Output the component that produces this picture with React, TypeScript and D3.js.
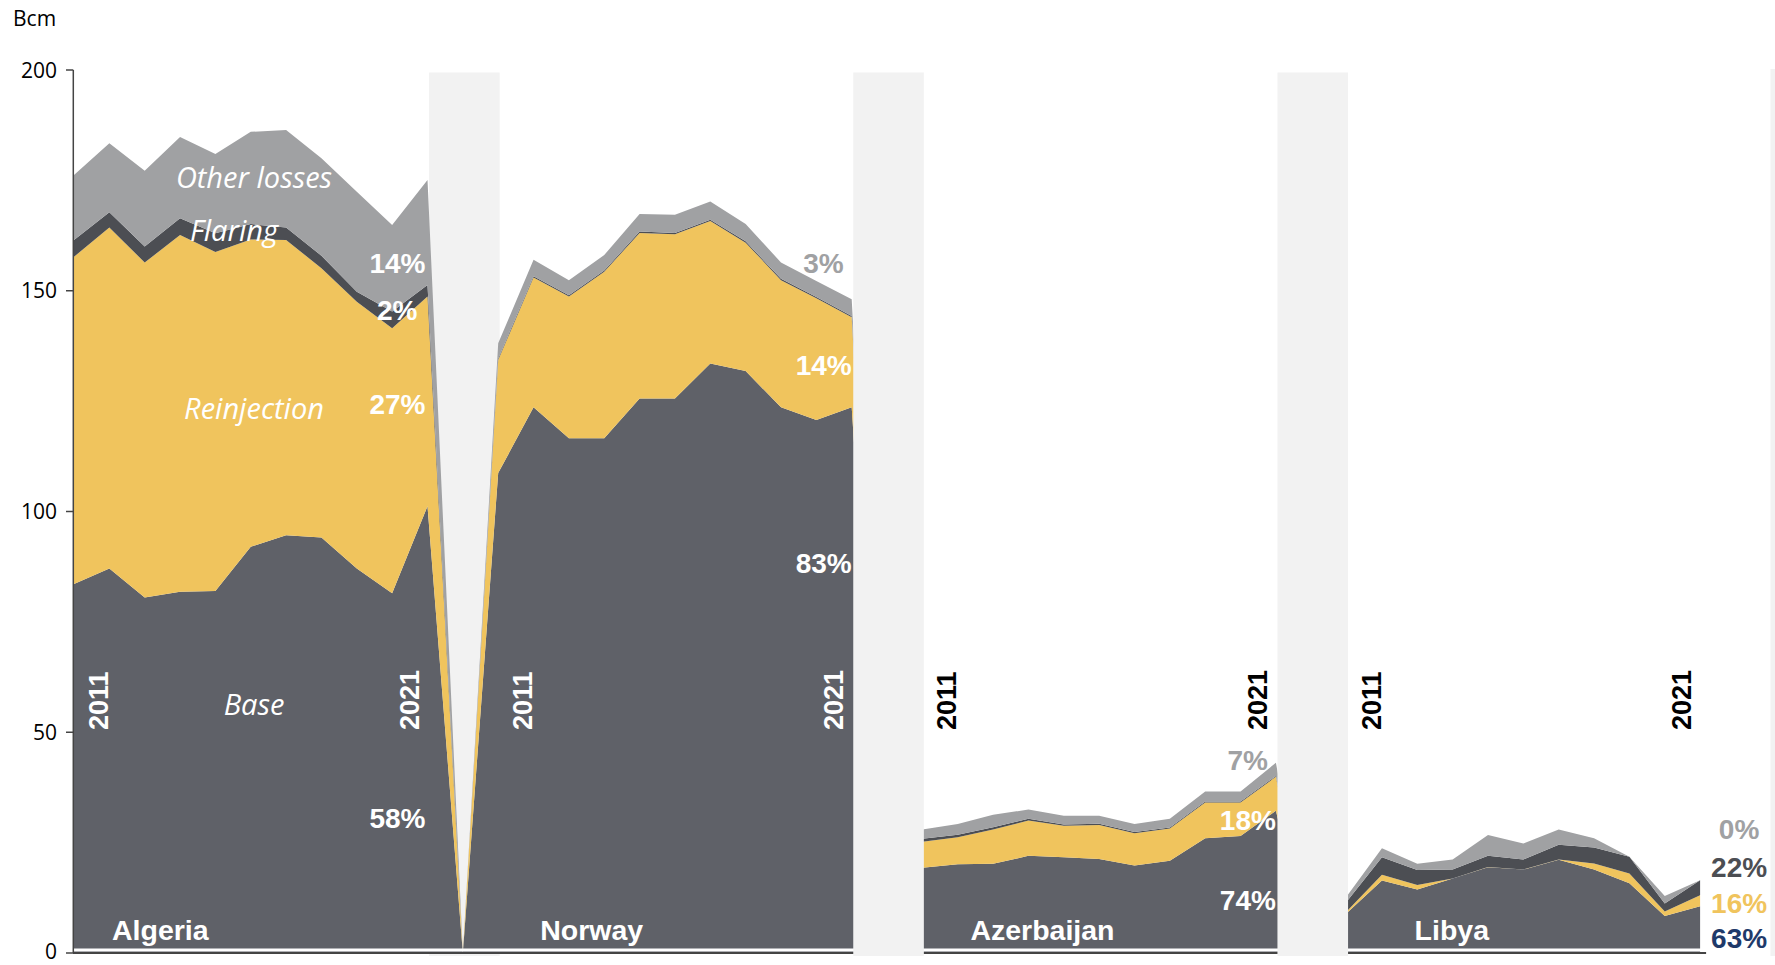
import React from "react";
import * as d3 from "d3";

// ---------- DATA (Bcm) ----------
const years = ["2011", "2012", "2013", "2014", "2015", "2016", "2017", "2018", "2019", "2020", "2021"];
const countries = ["Algeria", "Norway", "Azerbaijan", "Libya"];

const algeriaBase = [83.6, 87.1, 80.5, 81.8, 82.0, 92.0, 94.6, 94.1, 87.1, 81.5, 101.2];
const algeriaReinjection = [74.1, 77.2, 75.9, 80.8, 76.8, 69.6, 66.9, 61.0, 60.4, 60.0, 47.5];
const algeriaFlaring = [3.8, 3.5, 3.6, 3.8, 4.2, 3.5, 2.8, 2.8, 2.3, 3.8, 2.6];
const algeriaOther = [14.7, 15.6, 17.2, 18.4, 18.0, 20.9, 22.1, 22.1, 22.6, 19.6, 23.8];

const norwayBase = [108.7, 123.6, 116.6, 116.6, 125.6, 125.6, 133.5, 131.8, 123.6, 120.7, 123.6];
const norwayReinjection = [25.6, 29.4, 32.1, 37.7, 37.5, 37.2, 32.3, 29.1, 28.8, 27.6, 20.4];
const norwayFlaring = [0.3, 0.3, 0.3, 0.3, 0.3, 0.3, 0.3, 0.3, 0.3, 0.3, 0.3];
const norwayOther = [3.5, 3.7, 3.4, 3.5, 4.0, 4.1, 4.1, 3.9, 3.7, 3.6, 3.8];

const azerbaijanBase = [19.3, 20.1, 20.2, 22.0, 21.7, 21.3, 19.8, 20.9, 26.0, 26.5, 32.2];
const azerbaijanReinjection = [5.9, 6.1, 7.8, 8.0, 7.1, 7.7, 7.3, 7.3, 8.1, 7.6, 7.7];
const azerbaijanFlaring = [0.7, 0.6, 0.5, 0.4, 0.3, 0.3, 0.3, 0.2, 0.2, 0.2, 0.2];
const azerbaijanOther = [2.1, 2.4, 2.8, 2.1, 2.0, 1.8, 1.8, 2.0, 2.3, 2.3, 3.0];

const libyaBase = [9.0, 16.4, 14.4, 16.9, 19.4, 18.9, 21.1, 18.9, 15.8, 8.4, 10.6];
const libyaReinjection = [0.4, 1.3, 1.0, 0.0, 0.1, 0.0, 0.1, 1.4, 2.2, 1.0, 2.5];
const libyaFlaring = [2.2, 4.0, 3.4, 2.0, 2.5, 2.3, 3.3, 3.6, 3.8, 1.8, 3.4];
const libyaOther = [1.2, 2.0, 1.4, 2.3, 4.7, 3.6, 3.5, 2.1, 0.0, 1.7, 0.0];

const seriesKeys = ["base", "reinjection", "flaring", "other"];
const seriesColors = ["#5f6168", "#f0c45d", "#4c4e53", "#a0a1a3"];

const yTicks = [0, 50, 100, 150, 200];

// 2021 shares (labels)
const algeriaShares = ["58%", "27%", "2%", "14%"];
const norwayShares = ["83%", "14%", "3%"];
const azerbaijanShares = ["74%", "18%", "7%"];
const libyaShares = ["63%", "16%", "22%", "0%"];

const countrySeries = [
  [algeriaBase, algeriaReinjection, algeriaFlaring, algeriaOther],
  [norwayBase, norwayReinjection, norwayFlaring, norwayOther],
  [azerbaijanBase, azerbaijanReinjection, azerbaijanFlaring, azerbaijanOther],
  [libyaBase, libyaReinjection, libyaFlaring, libyaOther],
];

// Build a continuous table: 11 years per country, with a zero gap point between countries
type Row = { [k: string]: number };
const rows: Row[] = [];
countrySeries.forEach((s, ci) => {
  years.forEach((_, yi) => {
    const r: Row = {};
    seriesKeys.forEach((k, ki) => (r[k] = s[ki][yi]));
    rows.push(r);
  });
  if (ci < countrySeries.length - 1) {
    const g: Row = {};
    seriesKeys.forEach((k) => (g[k] = 0));
    rows.push(g);
  }
});

const W = 1775;
const H = 965;
const step = 35.35;
const x = d3.scaleLinear().domain([0, rows.length - 1]).range([74, 74 + (rows.length - 1) * step]);
const y = d3.scaleLinear().domain([0, 200]).range([953, 70]);

const stack = d3.stack<Row>().keys(seriesKeys);
const stacked = stack(rows);
const area = d3
  .area<any>()
  .x((_, i) => x(i))
  .y0((d) => y(d[0]))
  .y1((d) => y(d[1]))
  .curve(d3.curveLinear);

const ARIAL = "'Liberation Sans', Arial, sans-serif";
const SANS = "'Open Sans', 'Noto Sans', sans-serif";

export default function App() {
  const firstIdx = (ci: number) => ci * 12;
  const lastIdx = (ci: number) => ci * 12 + 10;
  const gapIdx = [11, 23, 35];
  const bandTop = 72.5;
  const bandBottom = 956;
  const bandHalf = 35.3;

  const band = (g: number) => (
    <rect
      key={"band" + g}
      x={x(g) + 1.5 - bandHalf}
      y={bandTop}
      width={bandHalf * 2}
      height={bandBottom - bandTop}
      fill="#f2f2f2"
    />
  );

  const pctStyle = { fontFamily: ARIAL, fontWeight: 700, fontSize: 28 } as const;
  const yearStyle = { fontFamily: ARIAL, fontWeight: 700, fontSize: 27 } as const;
  const italic = { fontFamily: SANS, fontStyle: "italic", fontSize: 29, fill: "#ffffff" } as const;

  const yearColors = ["#ffffff", "#ffffff", "#000000", "#000000"];

  return (
    <svg width={W} height={H} style={{ position: "absolute", left: 0, top: 0, background: "#fff" }}>
      {/* first gap band sits behind the areas */}
      {band(gapIdx[0])}

      {stacked.map((layer, li) => (
        <path key={layer.key} d={area(layer as any) || ""} fill={seriesColors[li]} />
      ))}

      {/* white separation + x axis */}
      <line x1={x(0)} x2={x(rows.length - 1) + 6} y1={y(0) - 3} y2={y(0) - 3} stroke="#ffffff" strokeWidth={3} />
      <line x1={x(0) - 1} x2={x(rows.length - 1) + 6} y1={y(0)} y2={y(0)} stroke="#444444" strokeWidth={2} />

      {/* other gap bands drawn on top */}
      {band(gapIdx[1])}
      {band(gapIdx[2])}
      <rect x={1770.5} y={69} width={5} height={bandBottom - 69} fill="#f2f2f2" />

      {/* y axis */}
      <line x1={73.3} x2={73.3} y1={y(200)} y2={y(0)} stroke="#444444" strokeWidth={1.5} />
      {yTicks.map((t) => (
        <g key={t}>
          <line x1={66} x2={73.3} y1={y(t)} y2={y(t)} stroke="#444444" strokeWidth={1.5} />
          <text
            x={57}
            y={t === 0 ? y(t) - 1.5 : y(t)}
            dy="0.36em"
            textAnchor="end"
            style={{ fontFamily: SANS, fontSize: 21, fill: "#000" }}
          >
            {t}
          </text>
        </g>
      ))}
      <text x={13} y={26} style={{ fontFamily: SANS, fontSize: 21, fill: "#000" }}>
        Bcm
      </text>

      {/* series names (Algeria panel) */}
      <text x={254} y={188} textAnchor="middle" style={italic}>Other losses</text>
      <text x={234} y={241} textAnchor="middle" style={italic}>Flaring</text>
      <text x={254} y={419} textAnchor="middle" style={italic}>Reinjection</text>
      <text x={254} y={715} textAnchor="middle" style={italic}>Base</text>

      {/* year labels */}
      {countries.map((c, ci) => (
        <g key={"yr" + c}>
          <text
            transform={`translate(${x(firstIdx(ci)) + 34},730) rotate(-90)`}
            style={{ ...yearStyle, fill: yearColors[ci] }}
          >
            {years[0]}
          </text>
          <text
            transform={`translate(${x(lastIdx(ci)) - 9},730) rotate(-90)`}
            style={{ ...yearStyle, fill: yearColors[ci] }}
          >
            {years[years.length - 1]}
          </text>
        </g>
      ))}

      {/* country names */}
      {countries.map((c, ci) => (
        <text
          key={c}
          x={x(firstIdx(ci)) + (ci === 0 ? 38 : ci === 1 ? 42 : ci === 2 ? 48 : 68)}
          y={940}
          style={{ fontFamily: ARIAL, fontWeight: 700, fontSize: 28.5, fill: "#ffffff" }}
        >
          {c}
        </text>
      ))}

      {/* Algeria shares */}
      <text x={x(10) - 2} y={828} textAnchor="end" style={{ ...pctStyle, fill: "#fff" }}>{algeriaShares[0]}</text>
      <text x={x(10) - 2} y={414} textAnchor="end" style={{ ...pctStyle, fill: "#fff" }}>{algeriaShares[1]}</text>
      <text x={x(10) - 10} y={320} textAnchor="end" style={{ ...pctStyle, fill: "#fff" }}>{algeriaShares[2]}</text>
      <text x={x(10) - 2} y={273} textAnchor="end" style={{ ...pctStyle, fill: "#fff" }}>{algeriaShares[3]}</text>

      {/* Norway shares */}
      <text x={x(22)} y={573} textAnchor="end" style={{ ...pctStyle, fill: "#fff" }}>{norwayShares[0]}</text>
      <text x={x(22)} y={375} textAnchor="end" style={{ ...pctStyle, fill: "#fff" }}>{norwayShares[1]}</text>
      <text x={x(22) - 8} y={273} textAnchor="end" style={{ ...pctStyle, fill: "#a0a1a3" }}>{norwayShares[2]}</text>

      {/* Azerbaijan shares */}
      <text x={x(34)} y={910} textAnchor="end" style={{ ...pctStyle, fill: "#fff" }}>{azerbaijanShares[0]}</text>
      <text x={x(34)} y={830} textAnchor="end" style={{ ...pctStyle, fill: "#fff" }}>{azerbaijanShares[1]}</text>
      <text x={x(34) - 8} y={770} textAnchor="end" style={{ ...pctStyle, fill: "#a0a1a3" }}>{azerbaijanShares[2]}</text>

      {/* Libya shares */}
      <text x={x(46) + 39} y={948} textAnchor="middle" style={{ ...pctStyle, fill: "#1f3a6a" }}>{libyaShares[0]}</text>
      <text x={x(46) + 39} y={913} textAnchor="middle" style={{ ...pctStyle, fill: "#f0c45d" }}>{libyaShares[1]}</text>
      <text x={x(46) + 39} y={877} textAnchor="middle" style={{ ...pctStyle, fill: "#4c4e53" }}>{libyaShares[2]}</text>
      <text x={x(46) + 39} y={839} textAnchor="middle" style={{ ...pctStyle, fill: "#a0a1a3" }}>{libyaShares[3]}</text>
    </svg>
  );
}
